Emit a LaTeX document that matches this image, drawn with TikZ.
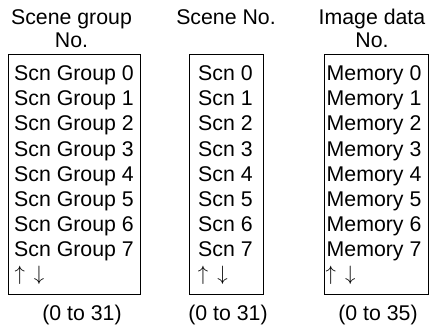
\documentclass[tikz,border=0pt]{standalone}
\usepackage{fontspec}
\setmainfont{Liberation Sans}
\usetikzlibrary{positioning}

\begin{document}
\begin{tikzpicture}[x=1pt, y=-1pt,
    every node/.style={inner sep=0pt, font=\fontsize{21.3}{23}\selectfont},
    listbox/.style={draw, line width=1.2pt, anchor=north west, minimum height=240},
    entry/.style={anchor=base west},
    more/.style={anchor=base west, font=\fontsize{20}{22}\selectfont},
    head/.style={align=center, anchor=south},
    spanlabel/.style={anchor=base}]
    \useasboundingbox (0,0) rectangle (430,331);

    % Draw boxes
    \node[listbox, minimum width=132] (grpbox) at (8,54) {};
    \node[listbox, minimum width=74] (scnbox) at (189,54) {};
    \node[listbox, minimum width=104] (imgbox) at (324,54) {};

    % Headings
    \node[head] (grphead) at (71.5,48) {Scene group\\No.};
    \node[head] (scnhead) at (226,25) {Scene No.};
    \node[head] (imghead) at (372,48) {Image data\\No.};

    % Entries
    \foreach \i in {0,...,7} {
        \node[entry] (grp\i) at (14,81+25*\i) {Scn Group \i};
        \node[entry] (scn\i) at (198,81+25*\i) {Scn \i};
        \node[entry] (img\i) at (326.5,81+25*\i) {Memory \i};
    }
    \node[more] (grpmore) at (14.3,280) {$\uparrow$\hspace{9pt}$\downarrow$};
    \node[more] (scnmore) at (197.7,280) {$\uparrow$\hspace{9pt}$\downarrow$};
    \node[more] (imgmore) at (325.5,280) {$\uparrow$\hspace{9pt}$\downarrow$};

    % Ranges
    \node[spanlabel] (grprange) at (82,320) {(0 to 31)};
    \node[spanlabel] (scnrange) at (228,320) {(0 to 31)};
    \node[spanlabel] (imgrange) at (378,320) {(0 to 35)};
\end{tikzpicture}
\end{document}
